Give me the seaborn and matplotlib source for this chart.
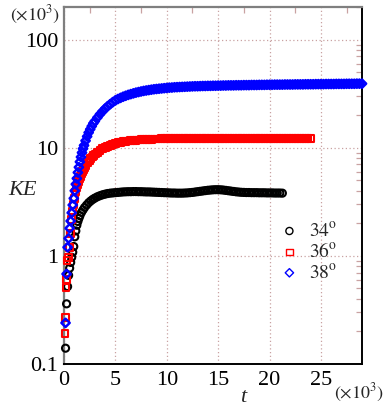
import matplotlib
matplotlib.use("Agg")
import pandas as pd
import matplotlib.pyplot as plt
import seaborn as sns
from matplotlib.ticker import FixedLocator, FixedFormatter, LogLocator, NullFormatter, MultipleLocator

# time samples (x10^3) of the plateau part, shared by all runs
t_tail = [5.0, 5.25, 5.5, 5.75, 6.0, 6.25, 6.5, 6.75,
          7.0, 7.25, 7.5, 7.75, 8.0, 8.25, 8.5, 8.75,
          9.0, 9.25, 9.5, 9.75, 10.0, 10.25, 10.5, 10.75,
          11.0, 11.25, 11.5, 11.75, 12.0, 12.25, 12.5, 12.75,
          13.0, 13.25, 13.5, 13.75, 14.0, 14.25, 14.5, 14.75,
          15.0, 15.25, 15.5, 15.75, 16.0, 16.25, 16.5, 16.75,
          17.0, 17.25, 17.5, 17.75, 18.0, 18.25, 18.5, 18.75,
          19.0, 19.25, 19.5, 19.75, 20.0, 20.25, 20.5, 20.75,
          21.0, 21.25, 21.5, 21.75, 22.0, 22.25, 22.5, 22.75,
          23.0, 23.25, 23.5, 23.75, 24.0, 24.25, 24.5, 24.75,
          25.0, 25.25, 25.5, 25.75, 26.0, 26.25, 26.5, 26.75,
          27.0, 27.25, 27.5, 27.75, 28.0, 28.25, 28.5, 28.75,
          29.0]

# 34 deg
t_34 = [0.15, 0.25, 0.35, 0.45, 0.55, 0.65, 0.75, 0.85, 0.95, 1.05,
        1.15, 1.25, 1.35, 1.45, 1.55, 1.7, 1.85, 2.0, 2.2, 2.4,
        2.6, 2.8, 3.0, 3.25, 3.5, 3.75, 4.0, 4.25, 4.5, 4.75]
ke_34 = [0.14, 0.36, 0.52, 0.66, 0.77, 0.87, 0.97, 1.08, 1.22, 1.5,
         1.7, 1.92, 2.08, 2.22, 2.35, 2.52, 2.66, 2.8, 2.95, 3.1,
         3.22, 3.33, 3.42, 3.52, 3.6, 3.67, 3.72, 3.77, 3.8, 3.82]
ke_34_tail = [3.84, 3.86, 3.88, 3.9, 3.91, 3.92, 3.92, 3.93,
              3.93, 3.92, 3.92, 3.91, 3.9, 3.9, 3.89, 3.88,
              3.87, 3.86, 3.85, 3.84, 3.83, 3.82, 3.81, 3.81,
              3.8, 3.8, 3.8, 3.81, 3.82, 3.84, 3.86, 3.89,
              3.92, 3.95, 3.98, 4.01, 4.04, 4.06, 4.08, 4.09,
              4.09, 4.08, 4.06, 4.03, 4.0, 3.97, 3.94, 3.91,
              3.89, 3.87, 3.86, 3.85, 3.85, 3.84, 3.84, 3.84,
              3.83, 3.83, 3.83, 3.82, 3.82, 3.82, 3.81, 3.81,
              3.81, 3.8]

# 36 deg
t_36 = [0.1, 0.15, 0.2, 0.25, 0.3, 0.4, 0.5, 0.6, 0.7, 0.8,
        0.9, 1.0, 1.1, 1.2, 1.3, 1.4, 1.5, 1.6, 1.7, 1.8,
        1.9, 2.0, 2.15, 2.3, 2.45, 2.6, 2.75, 2.9, 3.05, 3.25,
        3.5, 3.75, 4.0, 4.25, 4.5, 4.75]
ke_36 = [0.19, 0.27, 0.51, 0.6, 0.9, 0.97, 1.2, 1.6, 2.15, 2.6,
         3.0, 3.4, 3.9, 4.25, 4.6, 4.9, 5.2, 5.45, 5.75, 6.0,
         6.3, 6.55, 6.9, 7.25, 7.6, 7.9, 8.2, 8.5, 8.75, 9.05,
         9.4, 9.75, 10.0, 10.3, 10.5, 10.75]
ke_36_tail = [10.95, 11.1, 11.25, 11.35, 11.45, 11.55, 11.62, 11.7,
              11.75, 11.8, 11.85, 11.9, 11.93, 11.96, 12.0, 12.02,
              12.04, 12.06, 12.08, 12.1, 12.11, 12.12, 12.13, 12.14,
              12.15, 12.16, 12.17, 12.18, 12.18, 12.19, 12.2, 12.2,
              12.2, 12.21, 12.22, 12.22, 12.23, 12.24, 12.24, 12.25,
              12.25, 12.26, 12.26, 12.25, 12.24, 12.24, 12.23, 12.23,
              12.22, 12.22, 12.21, 12.21, 12.2, 12.2, 12.2, 12.19,
              12.19, 12.19, 12.18, 12.18, 12.18, 12.17, 12.17, 12.17,
              12.16, 12.16, 12.16, 12.15, 12.15, 12.15, 12.14, 12.14,
              12.14, 12.13, 12.13, 12.13, 12.12]

# 38 deg
t_38 = [0.15, 0.25, 0.35, 0.45, 0.55, 0.65, 0.75, 0.85, 0.95, 1.05,
        1.15, 1.25, 1.35, 1.45, 1.55, 1.65, 1.75, 1.85, 1.95, 2.1,
        2.25, 2.4, 2.55, 2.7, 2.85, 3.0, 3.25, 3.5, 3.75, 4.0,
        4.25, 4.5, 4.75]
ke_38 = [0.24, 0.68, 1.2, 1.45, 1.8, 2.1, 2.5, 2.95, 3.4, 4.0,
         4.6, 5.2, 5.9, 6.6, 7.4, 8.2, 9.0, 9.8, 10.5, 11.6,
         12.7, 13.8, 14.8, 15.8, 16.8, 17.6, 19.0, 20.4, 21.7, 23.0,
         24.2, 25.3, 26.4]
ke_38_tail = [27.4, 28.2, 28.9, 29.6, 30.2, 30.8, 31.3, 31.8,
              32.3, 32.7, 33.1, 33.5, 33.8, 34.1, 34.4, 34.7,
              34.9, 35.1, 35.3, 35.5, 35.7, 35.9, 36.0, 36.2,
              36.3, 36.4, 36.5, 36.6, 36.7, 36.8, 36.9, 37.0,
              37.0, 37.1, 37.2, 37.2, 37.3, 37.3, 37.4, 37.4,
              37.5, 37.5, 37.6, 37.6, 37.7, 37.7, 37.7, 37.8,
              37.8, 37.8, 37.9, 37.9, 37.9, 38.0, 38.0, 38.0,
              38.1, 38.1, 38.1, 38.2, 38.2, 38.2, 38.3, 38.3,
              38.3, 38.3, 38.4, 38.4, 38.4, 38.4, 38.5, 38.5,
              38.5, 38.5, 38.6, 38.6, 38.6, 38.6, 38.7, 38.7,
              38.7, 38.7, 38.8, 38.8, 38.8, 38.8, 38.9, 38.9,
              38.9, 38.9, 39.0, 39.0, 39.0, 39.0, 39.1, 39.1,
              39.1]

labels = [r"$34^{\mathrm{o}}$", r"$36^{\mathrm{o}}$", r"$38^{\mathrm{o}}$"]
colors = ["black", "red", "blue"]
markers = ["o", "s", "D"]
xticks = [0, 5, 10, 15, 20, 25]
yticks = [0.1, 1, 10, 100]
ytick_labels = ["0.1", "1", "10", "100"]

sns.set_style("white")
plt.rcParams["font.family"] = ["Liberation Serif", "DejaVu Serif"]
plt.rcParams["mathtext.fontset"] = "stix"

runs = [
    pd.DataFrame({"t": t_34 + t_tail[:len(ke_34_tail)], "KE": ke_34 + ke_34_tail}),
    pd.DataFrame({"t": t_36 + t_tail[:len(ke_36_tail)], "KE": ke_36 + ke_36_tail}),
    pd.DataFrame({"t": t_38 + t_tail[:len(ke_38_tail)], "KE": ke_38 + ke_38_tail}),
]

fig = plt.figure(figsize=(3.86, 4.09), dpi=100)
ax = fig.add_axes([64 / 386, 1 - 364 / 409, 298 / 386, 357 / 409])

sizes = [26, 24, 18]
widths = [1.5, 1.5, 1.8]
for df, lab, col, mk, s, lw in zip(runs, labels, colors, markers, sizes, widths):
    sns.scatterplot(data=df, x="t", y="KE", ax=ax, marker=mk, s=s,
                    facecolors="none", edgecolors=col, color=col,
                    linewidths=lw, label=lab, clip_on=False, zorder=3)

ax.set_yscale("log")
ax.set_xlim(0, 29)
ax.set_ylim(0.1, 200)

ax.xaxis.set_major_locator(FixedLocator(xticks))
ax.xaxis.set_minor_locator(MultipleLocator(2.5))
ax.yaxis.set_major_locator(FixedLocator(yticks))
ax.yaxis.set_major_formatter(FixedFormatter(ytick_labels))
ax.yaxis.set_minor_locator(LogLocator(base=10, subs=range(2, 10)))
ax.yaxis.set_minor_formatter(NullFormatter())

grid_col = "#c9a2a2"
ax.grid(True, which="major", color=grid_col, linestyle=(0, (1, 2)), linewidth=0.9)
ax.tick_params(which="both", direction="in", color=grid_col, top=True, right=True,
               labelsize=16, labelcolor="black")
ax.tick_params(which="major", length=0)
ax.tick_params(which="minor", length=4, width=0.9)
ax.tick_params(axis="y", pad=4)
ax.tick_params(axis="x", pad=5)

for side in ["left", "top"]:
    ax.spines[side].set_color("#7f7f7f")
    ax.spines[side].set_linewidth(1.6)
for side in ["bottom", "right"]:
    ax.spines[side].set_color("black")
    ax.spines[side].set_linewidth(1.4)

ax.set_xlabel("t", style="italic", fontsize=16)
ax.xaxis.set_label_coords(0.60, -0.095)
ax.xaxis.label.set_va("center")
ax.set_ylabel("KE", style="italic", fontsize=16, rotation=0, ha="center", va="center")
ax.yaxis.set_label_coords(-0.138, 0.487)

ax.text(-0.097, 0.978, r"$(\times10^3)$", transform=ax.transAxes,
        ha="center", va="center", fontsize=13)
ax.text(0.905, -0.08, r"$(\times10^3)$", transform=ax.transAxes,
        ha="left", va="center", fontsize=13)

leg = ax.legend(loc="center", bbox_to_anchor=(0.82, 0.315), frameon=False, fontsize=14,
                handlelength=1.0, handletextpad=0.5, labelspacing=0.1, borderpad=0)
for h in leg.legend_handles:
    h.set_linewidth(1.0)

fig.savefig("out.png", dpi=100)
